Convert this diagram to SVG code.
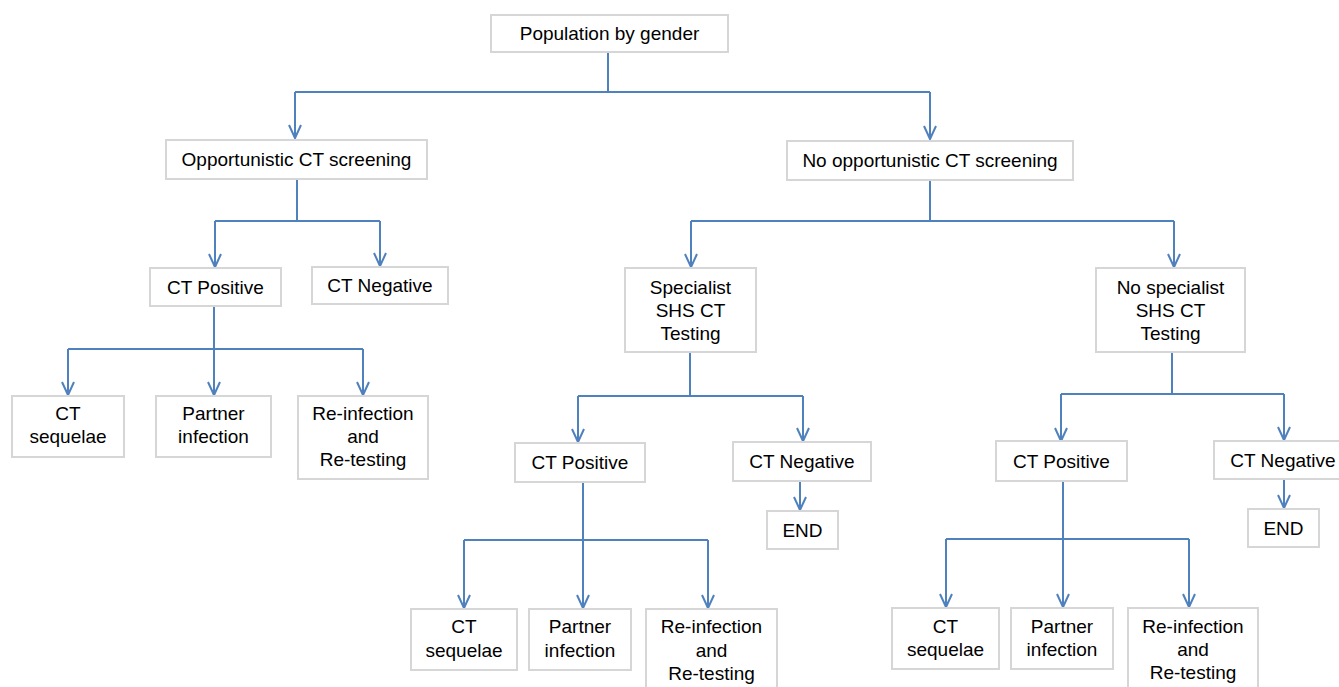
<svg xmlns="http://www.w3.org/2000/svg" width="1339" height="687" viewBox="0 0 1339 687">
<style>
.box{fill:#ffffff;stroke:#d6d6d6;stroke-width:2}
.t{font-family:"Liberation Sans",Arial,sans-serif;font-size:19px;fill:#000;text-anchor:middle}
.c{fill:none;stroke:#4f81bd;stroke-width:2}
.a{fill:none;stroke:#4f81bd;stroke-width:2;marker-end:url(#arr)}
</style>
<defs>
<marker id="arr" markerUnits="userSpaceOnUse" markerWidth="16" markerHeight="16" viewBox="-8 -15 16 16" refX="0" refY="0" orient="auto-start-reverse" overflow="visible">
<path d="M-13,-6 L0,0 L-13,6" fill="none" stroke="#4f81bd" stroke-width="2"/>
</marker>
</defs>
<rect width="1339" height="687" fill="#ffffff"/>
<g id="connectors">
<path class="c" d="M608,52 V92 M295,92 H930"/>
<path class="a" d="M295,92 V138"/>
<path class="a" d="M930,92 V139"/>
<path class="c" d="M297,179 V221 M215,221 H380"/>
<path class="a" d="M215,221 V267"/>
<path class="a" d="M380,221 V266"/>
<path class="c" d="M214,306 V349 M68,349 H363"/>
<path class="a" d="M68,349 V395"/>
<path class="a" d="M214,349 V395"/>
<path class="a" d="M363,349 V395"/>
<path class="c" d="M930,180 V221 M691,221 H1174"/>
<path class="a" d="M691,221 V267"/>
<path class="a" d="M1174,221 V267"/>
<path class="c" d="M690,352 V396 M578,396 H803"/>
<path class="a" d="M578,396 V442"/>
<path class="a" d="M803,396 V441"/>
<path class="a" d="M800,481 V510"/>
<path class="c" d="M583,482 V540 M464,540 H708"/>
<path class="a" d="M464,540 V608"/>
<path class="a" d="M583,540 V608"/>
<path class="a" d="M708,540 V608"/>
<path class="c" d="M1172,352 V394 M1061,394 H1284"/>
<path class="a" d="M1061,394 V441"/>
<path class="a" d="M1284,394 V440"/>
<path class="a" d="M1284,479 V508"/>
<path class="c" d="M1063,481 V539 M946,539 H1189"/>
<path class="a" d="M946,539 V607"/>
<path class="a" d="M1063,539 V607"/>
<path class="a" d="M1189,539 V607"/>
</g>
<g id="pop"><rect class="box" x="491" y="15" width="237" height="37"/><text class="t" x="609.5" y="40">Population by gender</text></g>
<g id="opp"><rect class="box" x="166" y="140" width="261" height="39"/><text class="t" x="296.5" y="166">Opportunistic CT screening</text></g>
<g id="nopp"><rect class="box" x="787" y="141" width="286" height="39"/><text class="t" x="930" y="167">No opportunistic CT screening</text></g>
<g id="ctpos1"><rect class="box" x="150" y="268" width="131" height="38"/><text class="t" x="215.5" y="294">CT Positive</text></g>
<g id="ctneg1"><rect class="box" x="312" y="267" width="136" height="37"/><text class="t" x="380" y="292">CT Negative</text></g>
<g id="seq1"><rect class="box" x="12" y="396" width="112" height="61"/><text class="t" x="68" y="420">CT</text><text class="t" x="68" y="443">sequelae</text></g>
<g id="part1"><rect class="box" x="156" y="396" width="115" height="61"/><text class="t" x="213.5" y="420">Partner</text><text class="t" x="213.5" y="443">infection</text></g>
<g id="reinf1"><rect class="box" x="298" y="396" width="130" height="83"/><text class="t" x="363" y="420">Re-infection</text><text class="t" x="363" y="443">and</text><text class="t" x="363" y="466">Re-testing</text></g>
<g id="spec"><rect class="box" x="625" y="268" width="131" height="84"/><text class="t" x="690.5" y="294">Specialist</text><text class="t" x="690.5" y="317">SHS CT</text><text class="t" x="690.5" y="340">Testing</text></g>
<g id="nospec"><rect class="box" x="1096" y="268" width="149" height="84"/><text class="t" x="1170.5" y="294">No specialist</text><text class="t" x="1170.5" y="317">SHS CT</text><text class="t" x="1170.5" y="340">Testing</text></g>
<g id="ctpos2"><rect class="box" x="515" y="443" width="130" height="39"/><text class="t" x="580" y="469">CT Positive</text></g>
<g id="ctneg2"><rect class="box" x="733" y="442" width="138" height="39"/><text class="t" x="802" y="468">CT Negative</text></g>
<g id="end2"><rect class="box" x="767" y="511" width="71" height="38"/><text class="t" x="802.5" y="537">END</text></g>
<g id="seq2"><rect class="box" x="411" y="609" width="106" height="61"/><text class="t" x="464" y="633">CT</text><text class="t" x="464" y="657">sequelae</text></g>
<g id="part2"><rect class="box" x="529" y="609" width="102" height="61"/><text class="t" x="580" y="633">Partner</text><text class="t" x="580" y="657">infection</text></g>
<g id="reinf2"><rect class="box" x="646" y="609" width="131" height="84"/><text class="t" x="711.5" y="633">Re-infection</text><text class="t" x="711.5" y="657">and</text><text class="t" x="711.5" y="680">Re-testing</text></g>
<g id="ctpos3"><rect class="box" x="996" y="441" width="131" height="40"/><text class="t" x="1061.5" y="468">CT Positive</text></g>
<g id="ctneg3"><rect class="box" x="1214" y="441" width="130" height="38"/><text class="t" x="1283" y="467">CT Negative</text></g>
<g id="end3"><rect class="box" x="1248" y="509" width="71" height="38"/><text class="t" x="1283.5" y="535">END</text></g>
<g id="seq3"><rect class="box" x="892" y="608" width="107" height="61"/><text class="t" x="945.5" y="633">CT</text><text class="t" x="945.5" y="656">sequelae</text></g>
<g id="part3"><rect class="box" x="1011" y="608" width="102" height="61"/><text class="t" x="1062" y="633">Partner</text><text class="t" x="1062" y="656">infection</text></g>
<g id="reinf3"><rect class="box" x="1128" y="608" width="130" height="84"/><text class="t" x="1193" y="633">Re-infection</text><text class="t" x="1193" y="656">and</text><text class="t" x="1193" y="679">Re-testing</text></g>
</svg>
